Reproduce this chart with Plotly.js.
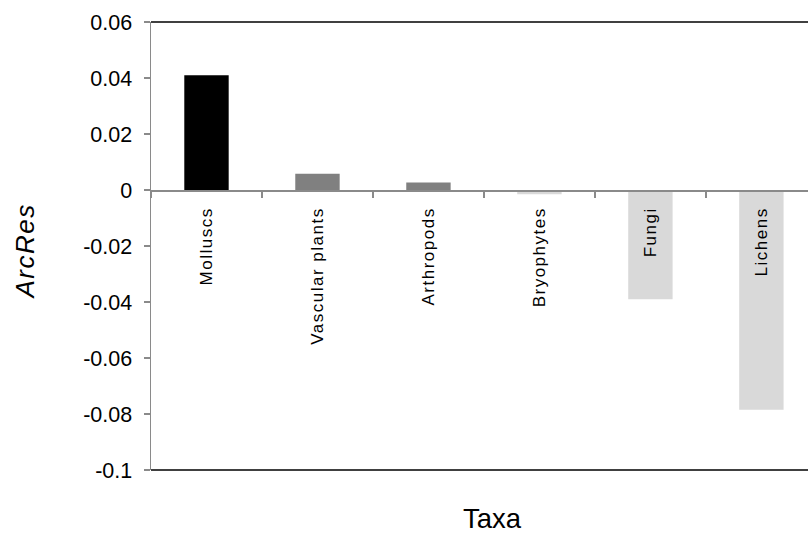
<!DOCTYPE html>
<html>
<head>
<meta charset="utf-8">
<script src="https://cdn.plot.ly/plotly-3.0.1.min.js"></script>
<style>
  html, body { margin: 0; padding: 0; background: #fff; overflow: hidden; }
  #chart { width: 808px; height: 534px; }
  /* slightly spaced rotated labels */
  .xtick text { letter-spacing: 1.5px; }
  .annotation[data-index="0"] text { letter-spacing: 1.5px; }
</style>
</head>
<body>
<div id="chart"></div>
<script>
// ArcRes value for each taxon
const taxa = ['Molluscs', 'Vascular plants', 'Arthropods', 'Bryophytes', 'Fungi', 'Lichens'];
const arcRes = [0.041, 0.0058, 0.0027, -0.0015, -0.039, -0.0785];
const barColors = ['#000000', '#808080', '#808080', '#d9d9d9', '#d9d9d9', '#d9d9d9'];

// y axis ticks (hyphen-minus labels)
const yTickVals = [0.06, 0.04, 0.02, 0, -0.02, -0.04, -0.06, -0.08, -0.1];
const yTickText = ['0.06', '0.04', '0.02', '0', '-0.02', '-0.04', '-0.06', '-0.08', '-0.1'];

const yMin = -0.1, yMax = 0.06;
const font = 'Liberation Sans, Arial, sans-serif';
const axisGray = '#8a8a8a';

const trace = {
  type: 'bar',
  x: taxa,
  y: arcRes,
  width: 0.4,
  marker: { color: barColors, line: { width: 0 } },
  hoverinfo: 'x+y'
};

const layout = {
  width: 808,
  height: 534,
  margin: { l: 151, r: 0, t: 22, b: 64 },
  paper_bgcolor: '#ffffff',
  plot_bgcolor: '#ffffff',
  showlegend: false,
  font: { family: font, color: '#000' },
  xaxis: {
    type: 'category',
    range: [-0.5, 5.42],
    anchor: 'free',
    position: (0 - yMin) / (yMax - yMin),
    showline: true,
    linecolor: axisGray,
    linewidth: 1.5,
    ticks: 'outside',
    tickson: 'boundaries',
    ticklen: 6,
    tickwidth: 1.5,
    tickcolor: axisGray,
    tickangle: -90,
    tickfont: { family: font, size: 17, color: '#000' },
    ticklabelstandoff: 9,
    showgrid: false,
    zeroline: false,
    fixedrange: true
  },
  yaxis: {
    range: [yMin, yMax],
    tickmode: 'array',
    tickvals: yTickVals,
    ticktext: yTickText,
    showline: true,
    linecolor: axisGray,
    linewidth: 1.5,
    ticks: 'outside',
    ticklen: 6,
    tickwidth: 1.5,
    tickcolor: axisGray,
    tickfont: { family: font, size: 21.5, color: '#000' },
    ticklabelstandoff: 7,
    showgrid: false,
    zeroline: false,
    fixedrange: true
  },
  shapes: [
    { type: 'line', xref: 'paper', yref: 'paper', x0: 0, x1: 1, y0: 1, y1: 1,
      line: { color: '#000', width: 1.6 } },
    { type: 'line', xref: 'paper', yref: 'paper', x0: 0, x1: 1, y0: 0, y1: 0,
      line: { color: '#000', width: 1.6 } }
  ],
  annotations: [
    { text: 'ArcRes', xref: 'paper', yref: 'paper', x: 0, y: 0.5,
      xshift: -126, yshift: -6, textangle: -90, showarrow: false,
      xanchor: 'center', yanchor: 'middle',
      font: { family: font, size: 26, style: 'italic', color: '#000' } },
    { text: 'Taxa', xref: 'paper', yref: 'paper', x: (492.5 - 151) / 657, y: (470 - 518.5) / 448,
      showarrow: false, xanchor: 'center', yanchor: 'middle',
      font: { family: font, size: 27.5, color: '#000' } }
  ]
};

Plotly.newPlot('chart', [trace], layout, { staticPlot: true, displayModeBar: false });
</script>
</body>
</html>
